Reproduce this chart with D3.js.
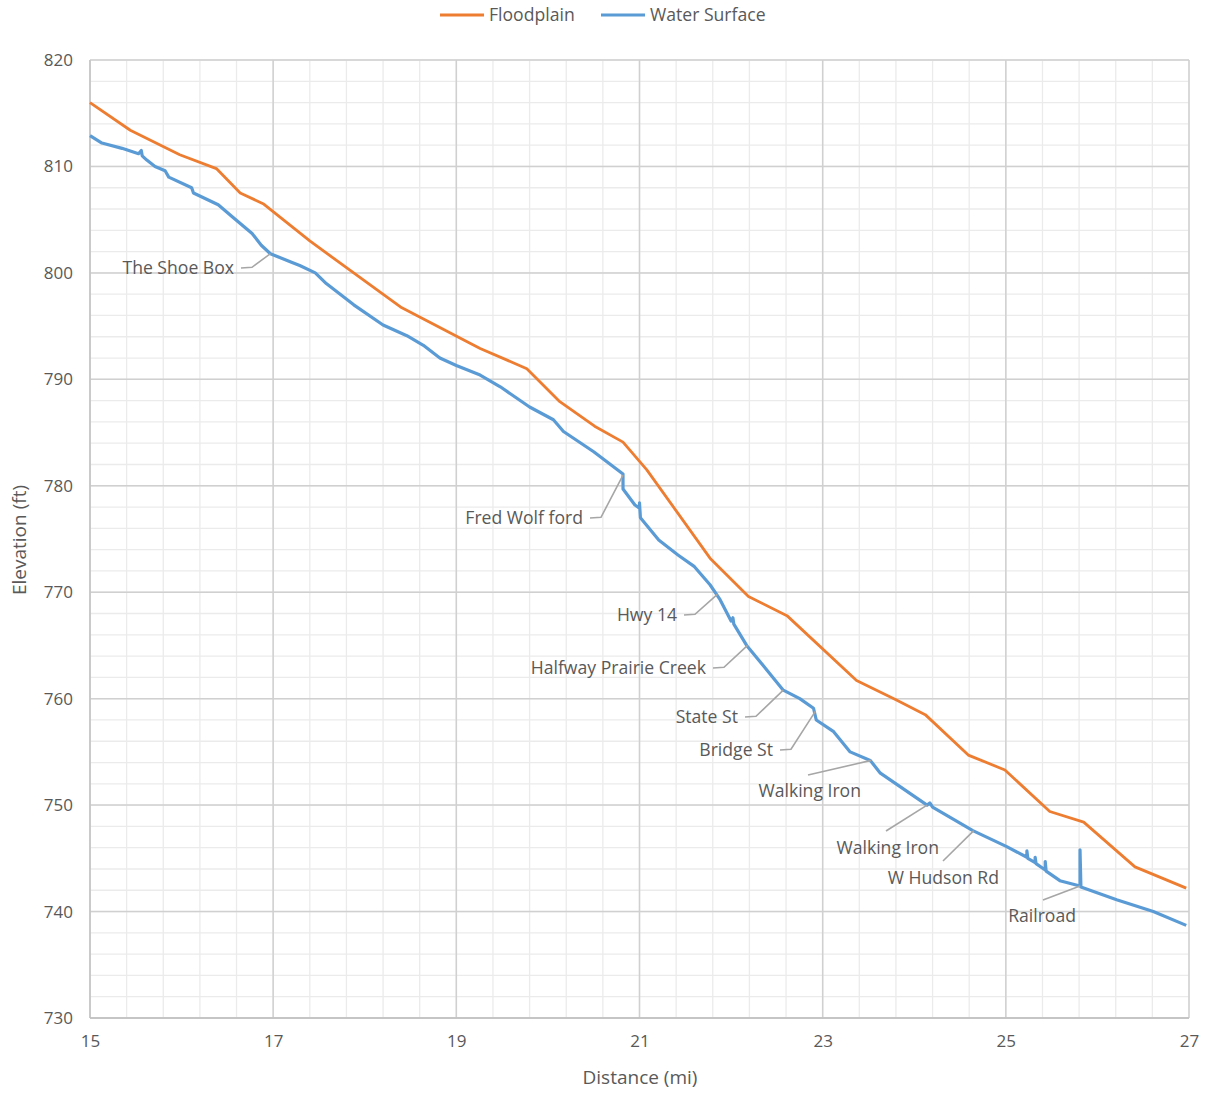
<!DOCTYPE html>
<html><head><meta charset="utf-8">
<script src="https://cdn.jsdelivr.net/npm/d3@7"></script>
<style>
body{margin:0;background:#fff;}
text{font-family:"Open Sans","Noto Sans",sans-serif;fill:#595959;}
</style></head>
<body>
<svg id="c" width="1214" height="1094"></svg>
<script>
// ---- data ----
const floodX = [15, 15.44, 15.98, 16.38, 16.64, 16.89, 17.4, 18.39, 19.26, 19.77, 20.13, 20.51, 20.82, 21.08, 21.77, 22.19, 22.61, 23.37, 23.8, 24.12, 24.59, 24.99, 25.48, 25.85, 26.41, 26.97];
const floodY = [816.0, 813.4, 811.1, 809.8, 807.5, 806.5, 803.0, 796.8, 792.9, 791.0, 787.9, 785.6, 784.1, 781.5, 773.2, 769.6, 767.8, 761.7, 759.9, 758.5, 754.7, 753.3, 749.4, 748.4, 744.2, 742.2];

const waterX = [15.00, 15.13, 15.35, 15.53, 15.56, 15.57, 15.62, 15.71, 15.82, 15.86, 16.11, 16.13, 16.40, 16.55, 16.77, 16.87, 16.97, 17.20, 17.29, 17.46, 17.58, 17.88, 18.20, 18.46, 18.64, 18.82, 19.00, 19.26, 19.48, 19.80, 20.06, 20.17, 20.50, 20.82, 20.82, 20.95, 21.00, 21.00, 21.01, 21.21, 21.42, 21.60, 21.77, 21.88, 22.00, 22.02, 22.03, 22.17, 22.39, 22.57, 22.75, 22.90, 22.93, 23.12, 23.30, 23.52, 23.63, 24.14, 24.17, 24.20, 24.64, 25.01, 25.23, 25.23, 25.24, 25.32, 25.32, 25.33, 25.43, 25.43, 25.44, 25.59, 25.81, 25.81, 25.82, 26.21, 26.61, 26.97];
const waterY = [812.9, 812.2, 811.7, 811.2, 811.5, 811.0, 810.6, 810.0, 809.6, 809.0, 808.0, 807.5, 806.4, 805.3, 803.7, 802.6, 801.8, 801.0, 800.7, 800.0, 799.0, 797.0, 795.1, 794.1, 793.2, 792.0, 791.3, 790.4, 789.3, 787.4, 786.2, 785.1, 783.2, 781.1, 779.7, 778.2, 777.9, 778.4, 777.0, 774.9, 773.5, 772.4, 770.7, 769.3, 767.3, 767.6, 767.0, 765.0, 762.7, 760.8, 760.0, 759.1, 758.0, 756.9, 755.0, 754.2, 753.0, 750.0, 750.2, 749.8, 747.6, 746.1, 745.1, 745.7, 745.0, 744.6, 745.1, 744.5, 743.9, 744.7, 743.8, 742.9, 742.4, 745.8, 742.3, 741.1, 740.0, 738.7];

const xTicks = [15, 17, 19, 21, 23, 25, 27];
const yTicks = [730, 740, 750, 760, 770, 780, 790, 800, 810, 820];

// annotations: label and the point on the water line it points to
const annLabels = ["The Shoe Box", "Fred Wolf ford", "Hwy 14", "Halfway Prairie Creek", "State St", "Bridge St", "Walking Iron", "Walking Iron", "W Hudson Rd", "Railroad"];
const annPointX = [16.97, 20.82, 21.85, 22.18, 22.57, 22.92, 23.53, 24.14, 24.65, 25.81];
const annPointY = [801.8, 781.0, 769.8, 765.0, 760.8, 758.8, 754.2, 750.0, 747.6, 742.4];

// ---- layout ----
const svg = d3.select("#c");
const L = 90, R = 1189, T = 60, B = 1018;
const x = d3.scaleLinear().domain([15, 27]).range([L, R]);
const y = d3.scaleLinear().domain([730, 820]).range([B, T]);

// minor grid
const g = svg.append("g");
g.selectAll(".vmin").data(d3.range(0, 31).map(i => 15 + i * 0.4)).enter().append("line")
  .attr("x1", d => x(d)).attr("x2", d => x(d)).attr("y1", T).attr("y2", B)
  .attr("stroke", "#ebebeb").attr("stroke-width", 1.3);
g.selectAll(".hmin").data(d3.range(0, 46).map(i => 730 + i * 2)).enter().append("line")
  .attr("x1", L).attr("x2", R).attr("y1", d => y(d)).attr("y2", d => y(d))
  .attr("stroke", "#ebebeb").attr("stroke-width", 1.3);
// major grid
g.selectAll(".vmaj").data(xTicks).enter().append("line")
  .attr("x1", d => x(d)).attr("x2", d => x(d)).attr("y1", T).attr("y2", B)
  .attr("stroke", "#d0d0d0").attr("stroke-width", 1.5);
g.selectAll(".hmaj").data(yTicks).enter().append("line")
  .attr("x1", L).attr("x2", R).attr("y1", d => y(d)).attr("y2", d => y(d))
  .attr("stroke", "#d0d0d0").attr("stroke-width", 1.5);
// axes lines
svg.append("line").attr("x1", L).attr("x2", L).attr("y1", T).attr("y2", B).attr("stroke", "#c4c4c4").attr("stroke-width", 1.5);
svg.append("line").attr("x1", L).attr("x2", R).attr("y1", B).attr("y2", B).attr("stroke", "#bfbfbf").attr("stroke-width", 1.5);

// axes via d3
const xAxis = svg.append("g").attr("transform", `translate(0,${B})`)
  .call(d3.axisBottom(x).tickValues(xTicks).tickSize(0).tickPadding(17).tickFormat(d3.format("d")));
xAxis.select(".domain").remove();
xAxis.selectAll("text").style("font-size", "17px").attr("fill", "#595959");
const yAxis = svg.append("g").attr("transform", `translate(${L},0)`)
  .call(d3.axisLeft(y).tickValues(yTicks).tickSize(0).tickPadding(17).tickFormat(d3.format("d")));
yAxis.select(".domain").remove();
yAxis.selectAll("text").style("font-size", "17px").attr("fill", "#595959");

// axis titles
svg.append("text").attr("x", 640).attr("y", 1084).attr("text-anchor", "middle").style("font-size", "19px").text("Distance (mi)");
svg.append("text").attr("transform", "translate(26,540) rotate(-90)").attr("text-anchor", "middle").style("font-size", "19px").text("Elevation (ft)");

// lines
const line = d3.line().x(d => x(d[0])).y(d => y(d[1]));
const flood = floodX.map((d, i) => [d, floodY[i]]);
const water = waterX.map((d, i) => [d, waterY[i]]);
svg.append("path").datum(flood).attr("d", line).attr("fill", "none").attr("stroke", "#ED7D31").attr("stroke-width", 2.8).attr("stroke-linejoin", "round");
svg.append("path").datum(water).attr("d", line).attr("fill", "none").attr("stroke", "#5B9BD5").attr("stroke-width", 3.2).attr("stroke-linejoin", "round");

// annotations
const annTextX = [234, 583, 677, 706, 738, 773, 861, 939, 999, 1076];
const annTextY = [268, 518, 615, 668, 717, 750, 791, 848, 878, 916];
const annStyle = ["elbow", "elbow", "elbow", "elbow", "elbow", "elbow", "under", "under", "under", "under"];
const annStart = [null, null, null, null, null, null, [808, 775], [886, 831], [943, 861], [1043, 900]];
const annG = svg.append("g");
annLabels.forEach((lab, i) => {
  const px = x(annPointX[i]), py = y(annPointY[i]);
  const tx = annTextX[i], ty = annTextY[i];
  const pts = annStyle[i] === "elbow"
    ? [[tx + 7, ty], [tx + 18, ty - 0.7], [px, py]]
    : [annStart[i], [px, py]];
  annG.append("path").attr("d", d3.line()(pts)).attr("fill", "none").attr("stroke", "#a6a6a6").attr("stroke-width", 1.6);
  annG.append("text").attr("x", tx).attr("y", ty).attr("dy", "0.35em").attr("text-anchor", "end")
    .style("font-size", "17.6px").text(lab);
});

// legend
const leg = svg.append("g");
const legItems = [["Floodplain", "#ED7D31", 440], ["Water Surface", "#5B9BD5", 601]];
legItems.forEach(([name, col, lx]) => {
  leg.append("line").attr("x1", lx).attr("x2", lx + 44).attr("y1", 15).attr("y2", 15).attr("stroke", col).attr("stroke-width", 3);
  leg.append("text").attr("x", lx + 49).attr("y", 15).attr("dy", "0.35em").style("font-size", "17.6px").text(name);
});
</script>
</body></html>
